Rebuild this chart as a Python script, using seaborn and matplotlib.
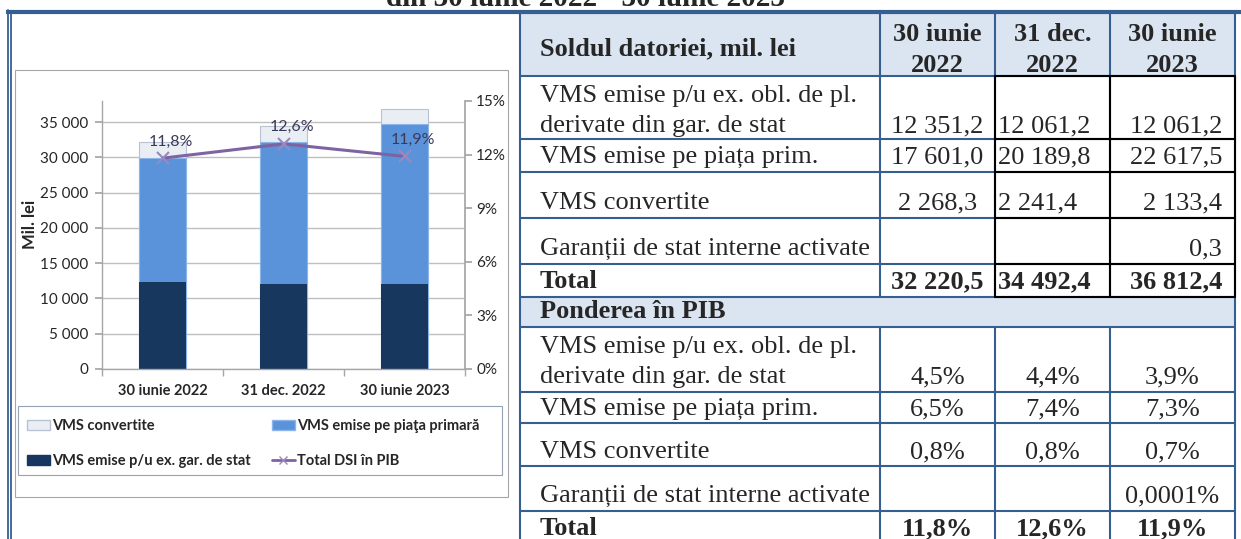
import numpy as np
import pandas as pd
import matplotlib
matplotlib.use("Agg")
import matplotlib.pyplot as plt
from matplotlib.patches import Rectangle, Patch
from matplotlib.lines import Line2D
from matplotlib.ticker import FuncFormatter
import seaborn as sns

# chart data
dates = ["30 iunie 2022", "31 dec. 2022", "30 iunie 2023"]
vms_gar_stat = [12351.2, 12061.2, 12061.2]
vms_piata_prim = [17601.0, 20189.8, 22617.5]
vms_convertite = [2268.3, 2241.4, 2133.4]
total_dsi_pib = [11.8, 12.6, 11.9]
pib_labels = ["11,8%", "12,6%", "11,9%"]

# table data
title = "din 30 iunie 2022 - 30 iunie 2023"
col_headers = [["30 iunie", "2022"], ["31 dec.", "2022"], ["30 iunie", "2023"]]
sold_names = [["VMS emise p/u ex. obl. de pl.", "derivate din gar. de stat"],
              ["VMS emise pe piața prim."], ["VMS convertite"],
              ["Garanții de stat interne activate"], ["Total"]]
sold_values = [["12 351,2", "12 061,2", "12 061,2"],
               ["17 601,0", "20 189,8", "22 617,5"],
               ["2 268,3", "2 241,4", "2 133,4"],
               ["", "", "0,3"],
               ["32 220,5", "34 492,4", "36 812,4"]]
pond_values = [["4,5%", "4,4%", "3,9%"],
               ["6,5%", "7,4%", "7,3%"],
               ["0,8%", "0,8%", "0,7%"],
               ["", "", "0,0001%"],
               ["11,8%", "12,6%", "11,9%"]]

W, H = 1241, 539
BLUE = "#365F91"
NAVY = "#17375E"
MID = "#5A93DA"
LIGHT = "#E9EEF5"
PURPLE = "#7E63A3"
GRID = "#BFBFBF"

sns.set_theme(style="white")
plt.rcParams["font.family"] = ["Lato", "DejaVu Sans"]

fig = plt.figure(figsize=(W / 100, H / 100), dpi=100)

# page canvas in pixel coordinates
cv = fig.add_axes([0, 0, 1, 1])
cv.set_xlim(0, W)
cv.set_ylim(H, 0)
cv.axis("off")

serif = ["Liberation Serif", "DejaVu Serif"]
fs = 19

cv.text(585, 6, title, ha="center", va="baseline", family=serif,
        weight="bold", fontsize=21)

# page border
cv.plot([6, W], [12, 12], color=BLUE, lw=3, solid_capstyle="butt")
cv.plot([7.5, 7.5], [10, H], color=BLUE, lw=1.3)
cv.plot([11, 11], [13, H], color=BLUE, lw=1.3)

# chart and legend frames
cv.add_patch(Rectangle((15, 70), 493, 427, fill=False, edgecolor="#A6A6A6", lw=0.8))
cv.add_patch(Rectangle((18, 406), 484, 69, fill=False, edgecolor="#93A3B5", lw=0.8))

# ---- table ----
xs = [520, 880, 995, 1110, 1235]
ys = [12, 76, 139, 172, 218, 264, 297, 327, 392, 423, 466, 511, 560]
base = [None, 132, 163, 209, 255, 288, 318, 383, 415, 458, 502, 535]

cv.add_patch(Rectangle((xs[0], ys[0]), xs[-1] - xs[0], ys[1] - ys[0], color="#DBE5F1", lw=0))
cv.add_patch(Rectangle((xs[0], ys[6]), xs[-1] - xs[0], ys[7] - ys[6], color="#DBE5F1", lw=0))

for y in ys[1:-1]:
    cv.plot([xs[0], xs[-1]], [y, y], color=BLUE, lw=1.5)
for i, x in enumerate(xs):
    if i in (0, 4):
        cv.plot([x, x], [ys[0], H], color=BLUE, lw=1.5)
    else:
        cv.plot([x, x], [ys[0], ys[6]], color=BLUE, lw=1.5)
        cv.plot([x, x], [ys[7], H], color=BLUE, lw=1.5)
# black cell borders
for x in xs[2:]:
    cv.plot([x, x], [ys[1], ys[6]], color="black", lw=1.5)
for y in ys[1:7]:
    cv.plot([xs[2], xs[4]], [y, y], color="black", lw=1.5)

cv.text(540, 55, "Soldul datoriei, mil. lei", family=serif, weight="bold",
        fontsize=fs, va="baseline")
for j, (l1, l2) in enumerate(col_headers):
    cx = (xs[j + 1] + xs[j + 2]) / 2
    cv.text(cx, 41, l1, family=serif, weight="bold", fontsize=fs, ha="center", va="baseline")
    cv.text(cx, 72, l2, family=serif, weight="bold", fontsize=fs, ha="center", va="baseline")


def put_row(names, b, bold=False):
    w = "bold" if bold else "normal"
    for k, line in enumerate(reversed(names)):
        cv.text(540, b - 30 * k, line, family=serif, fontsize=fs, weight=w, va="baseline")


for r, (names, vals) in enumerate(zip(sold_names, sold_values)):
    b = base[r + 1]
    bold = names[0] == "Total"
    put_row(names, b, bold)
    w = "bold" if bold else "normal"
    cv.text((xs[1] + xs[2]) / 2, b, vals[0], family=serif, fontsize=fs, weight=w,
            ha="center", va="baseline")
    cv.text(xs[2] + 3, b, vals[1], family=serif, fontsize=fs, weight=w,
            ha="left", va="baseline")
    cv.text(xs[4] - 13, b, vals[2], family=serif, fontsize=fs, weight=w,
            ha="right", va="baseline")

cv.text(540, base[6], "Ponderea în PIB", family=serif, weight="bold", fontsize=fs, va="baseline")

for r, (names, vals) in enumerate(zip(sold_names, pond_values)):
    b = base[r + 7]
    bold = names[0] == "Total"
    put_row(names, b, bold)
    w = "bold" if bold else "normal"
    for j in range(3):
        cx = (xs[j + 1] + xs[j + 2]) / 2
        cv.text(cx, b, vals[j], family=serif, fontsize=fs, weight=w,
                ha="center", va="baseline")

# ---- chart ----
ax = fig.add_axes([102 / W, 1 - 369 / H, (465 - 102) / W, (369 - 101) / H])
ax.patch.set_alpha(0)

cum_mid = np.add(vms_gar_stat, vms_piata_prim)
cum_top = cum_mid + np.array(vms_convertite)
df = pd.DataFrame({"data": dates, "top": cum_top, "mid": cum_mid, "low": vms_gar_stat})

sns.barplot(data=df, x="data", y="top", color=LIGHT, width=0.39, saturation=1,
            edgecolor="#B8C2D0", linewidth=0.8, ax=ax)
sns.barplot(data=df, x="data", y="mid", color=MID, width=0.39, saturation=1,
            edgecolor="#8DB6E8", linewidth=0.8, ax=ax)
sns.barplot(data=df, x="data", y="low", color=NAVY, width=0.39, saturation=1,
            linewidth=0, ax=ax)

ax.set_ylim(0, 38000)
ax.set_xlim(-0.5, 2.5)
ax.set_yticks(range(0, 35001, 5000))
ax.yaxis.set_major_formatter(FuncFormatter(lambda v, p: f"{int(v):,}".replace(",", " ")))
ax.yaxis.grid(True, color=GRID, lw=1)
ax.set_axisbelow(True)
ax.set_xlabel("")
ax.set_ylabel("Mil. lei", fontsize=12, weight="bold")
ax.yaxis.set_label_coords(-0.175, 0.54)
for s in ["top", "right"]:
    ax.spines[s].set_visible(False)
for s in ["left", "bottom"]:
    ax.spines[s].set_color("#A6A6A6")
    ax.spines[s].set_linewidth(1)
ax.set_xticks([0, 1, 2])
ax.set_xticklabels(dates, fontsize=10.5, weight="bold")
ax.set_xticks([-0.5, 0.5, 1.5, 2.5], minor=True)
ax.tick_params(axis="x", which="major", length=0, pad=11)
ax.tick_params(axis="x", which="minor", length=5, color="#A6A6A6", direction="out", bottom=True)
ax.tick_params(axis="y", length=5, color="#A6A6A6", direction="out", left=True,
               labelsize=11, pad=5)

ax2 = ax.twinx()
sns.lineplot(x=range(len(dates)), y=total_dsi_pib, color=PURPLE, lw=2.2, marker="x",
             markersize=8, markeredgewidth=1.5, markeredgecolor="#9A88BE", ax=ax2)
ax2.set_ylim(0, 15)
ax2.set_xlim(-0.5, 2.5)
ax2.set_yticks(range(0, 16, 3))
ax2.yaxis.set_major_formatter(FuncFormatter(lambda v, p: f"{int(v)}%"))
for s in ["top", "left", "bottom"]:
    ax2.spines[s].set_visible(False)
ax2.spines["right"].set_color("#A6A6A6")
ax2.tick_params(axis="y", length=5, color="#A6A6A6", direction="out", right=True,
                labelsize=11, pad=3)
for i, (v, lbl) in enumerate(zip(total_dsi_pib, pib_labels)):
    ax2.annotate(lbl, (i, v), xytext=(6, 12), textcoords="offset points",
                 ha="center", va="center", fontsize=11.5, color="#3A3A58")

handles = [Patch(facecolor=LIGHT, edgecolor="#B8C2D0"),
           Patch(facecolor=NAVY, edgecolor=NAVY),
           Patch(facecolor=MID, edgecolor="#8DB6E8"),
           Line2D([], [], color=PURPLE, lw=2, marker="x", markeredgecolor="#9A88BE")]
labels = ["VMS convertite", "VMS emise p/u ex. gar. de stat",
          "VMS emise pe piaţa primară", "Total DSI în PIB"]
fig.legend(handles, labels, ncol=2, loc="upper left", bbox_to_anchor=(27 / W, 1 - 419 / H),
           frameon=False, borderpad=0, borderaxespad=0, handlelength=1.6,
           handleheight=0.7, handletextpad=0.15, columnspacing=1.4, labelspacing=1.45,
           prop={"size": 10.5, "weight": "bold"})

fig.savefig("out.png", dpi=100)
